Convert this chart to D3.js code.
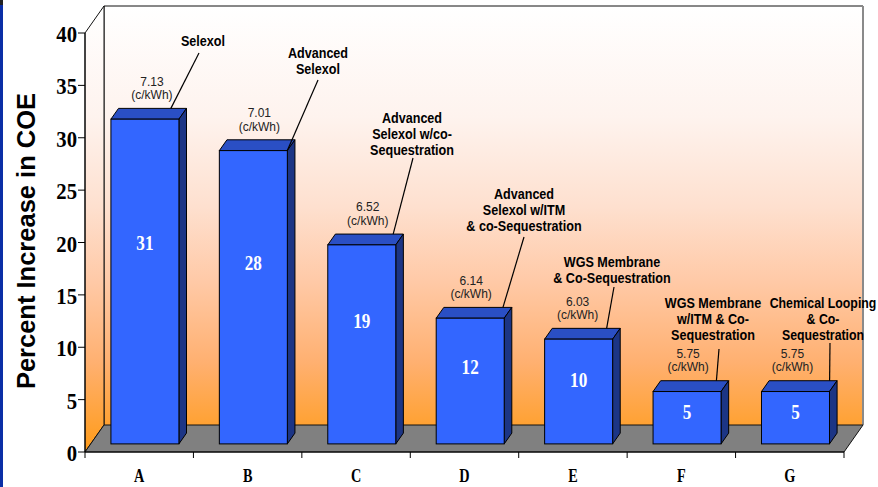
<!DOCTYPE html>
<html><head><meta charset="utf-8">
<script src="https://cdn.jsdelivr.net/npm/d3@7"></script>
<style>body{margin:0;background:#fff}svg{display:block}</style>
</head><body><svg id="chart" width="878" height="487"></svg>
<script>
// ---- data ----
const categories = ["A", "B", "C", "D", "E", "F", "G"];
const pctIncrease = [31, 28, 19, 12, 10, 5, 5];
const costOfElectricity = ["7.13", "7.01", "6.52", "6.14", "6.03", "5.75", "5.75"];
const costUnit = "(c/kWh)";
const processNames = [
  ["Selexol"],
  ["Advanced", "Selexol"],
  ["Advanced", "Selexol w/co-", "Sequestration"],
  ["Advanced", "Selexol w/ITM", "& co-Sequestration"],
  ["WGS Membrane", "& Co-Sequestration"],
  ["WGS Membrane", "w/ITM & Co-", "Sequestration"],
  ["Chemical Looping", "& Co-", "Sequestration"]
];
const yTicks = [0, 5, 10, 15, 20, 25, 30, 35, 40];
const yTitle = "Percent Increase in COE";

// ---- callout placement (name block centre, leader start, cost label shift, leader anchor on bar top) ----
const callouts = [
  { nx: 203, ny: 41,  top: [199, 53],  costDx: 7,  at: [0.77, 1], sx: 0.9 },
  { nx: 318, ny: 53,  top: [318, 80],  costDx: 6,  at: [1.0, 0],  sx: 0.9 },
  { nx: 412, ny: 118, top: [413, 158], costDx: 6,  at: [0.85, 1], sx: 0.9 },
  { nx: 524, ny: 194, top: [524, 237], costDx: 1,  at: [0.87, 1], sx: 0.9 },
  { nx: 612, ny: 262, top: [614, 287], costDx: -1, at: [0.80, 1], sx: 0.9 },
  { nx: 713, ny: 303, top: [719, 349], costDx: 1,  at: [0.82, 1], sx: 0.9 },
  { nx: 823, ny: 303, top: [830, 343], costDx: -3, at: [0.89, 1], sx: 0.88 }
];

const svg = d3.select("#chart");
const W = 878, H = 487;
const X0 = 85, X1 = 844, Y0 = 452, Y1 = 33;
const DX = 19, DY = -27;            // depth of the chart box
const zFront = 0.3, zBack = 0.7;    // depth slice occupied by the bars

const y = d3.scaleLinear().domain([0, 40]).range([Y0, Y1]);
const pad = 1 - 68 / ((X1 - X0) / categories.length);
const x = d3.scaleBand().domain(categories).range([X0, X1])
  .paddingInner(pad).paddingOuter(pad / 2);

const P = (px, v, z) => [px + DX * z, y(v) + DY * z];
const poly = pts => "M" + pts.map(p => p.join(",")).join("L") + "Z";

// left window edge strip
svg.append("rect").attr("x", 0).attr("y", 0).attr("width", 3).attr("height", H).attr("fill", "#0b2fa6");
svg.append("rect").attr("x", 0).attr("y", 0).attr("width", 3).attr("height", 5).attr("fill", "#222");

// wall gradient
const defs = svg.append("defs");
const g = defs.append("linearGradient").attr("id", "wall")
  .attr("gradientUnits", "userSpaceOnUse")
  .attr("x1", 0).attr("x2", 0).attr("y1", Y1 + DY).attr("y2", Y0);
[[0, "#ffffff"], [0.25, "#fef3ee"], [0.45, "#fee0cf"], [0.62, "#ffc9a6"],
 [0.8, "#ffb070"], [1, "#ff9b18"]].forEach(([o, c]) =>
  g.append("stop").attr("offset", o).attr("stop-color", c));

// back wall
svg.append("path")
  .attr("d", poly([P(X0, 0, 1), P(X0, 40, 1), P(X1, 40, 1), P(X1, 0, 1)]))
  .attr("fill", "url(#wall)").attr("stroke", "none");
svg.append("path")
  .attr("d", "M" + P(X0, 0, 1) + "L" + P(X0, 40, 1) + "L" + P(X1, 40, 1))
  .attr("fill", "none").attr("stroke", "#111").attr("stroke-width", 1);
svg.append("path")
  .attr("d", "M" + P(X1, 40, 1) + "L" + P(X1, 0, 1))
  .attr("fill", "none").attr("stroke", "#8a8a8a").attr("stroke-width", 2);

// left side wall
svg.append("path")
  .attr("d", poly([P(X0, 0, 0), P(X0, 40, 0), P(X0, 40, 1), P(X0, 0, 1)]))
  .attr("fill", "url(#wall)").attr("stroke", "#111").attr("stroke-width", 1);

// floor
svg.append("path")
  .attr("d", poly([P(X0, 0, 0), P(X1, 0, 0), P(X1, 0, 1), P(X0, 0, 1)]))
  .attr("fill", "#808080").attr("stroke", "#111").attr("stroke-width", 1);

// bars
const bars = svg.append("g");
categories.forEach((c, i) => {
  const v = pctIncrease[i];
  const xl = x(c), xr = x(c) + x.bandwidth();
  const gb = bars.append("g");
  // top face
  gb.append("path").attr("d", poly([P(xl, v, zFront), P(xr, v, zFront), P(xr, v, zBack), P(xl, v, zBack)]))
    .attr("fill", "#2a4fc4").attr("stroke", "#000").attr("stroke-width", 1).attr("stroke-linejoin", "round");
  // side face
  gb.append("path").attr("d", poly([P(xr, 0, zFront), P(xr, v, zFront), P(xr, v, zBack), P(xr, 0, zBack)]))
    .attr("fill", "#1c3585").attr("stroke", "#000").attr("stroke-width", 1).attr("stroke-linejoin", "round");
  // front face
  const f0 = P(xl, v, zFront), f1 = P(xr, 0, zFront);
  gb.append("rect").attr("x", f0[0]).attr("y", f0[1])
    .attr("width", f1[0] - f0[0]).attr("height", f1[1] - f0[1])
    .attr("fill", "#3366ff").attr("stroke", "#000").attr("stroke-width", 1);
  // value on the bar
  const lc = P(xl + x.bandwidth() / 2, v * 0.62, zFront);
  gb.append("text")
    .attr("transform", `translate(${lc[0]},${lc[1]}) scale(0.78,1)`)
    .attr("text-anchor", "middle").attr("dy", "0.35em")
    .attr("font-family", "'Liberation Serif','Times New Roman',serif")
    .attr("font-weight", "bold").attr("font-size", 22).attr("fill", "#fff")
    .text(v);
});

// y axis
const ax = svg.append("g");
ax.append("line").attr("x1", X0).attr("x2", X0).attr("y1", y(0)).attr("y2", y(40))
  .attr("stroke", "#000").attr("stroke-width", 1);
yTicks.forEach(t => {
  ax.append("line").attr("x1", X0 - 7).attr("x2", X0).attr("y1", y(t)).attr("y2", y(t))
    .attr("stroke", "#000").attr("stroke-width", 1);
  ax.append("text")
    .attr("transform", `translate(${X0 - 8},${y(t) + 9}) scale(0.9,1)`)
    .attr("text-anchor", "end")
    .attr("font-family", "'Liberation Serif','Times New Roman',serif")
    .attr("font-weight", "bold").attr("font-size", 23).attr("fill", "#000")
    .text(t);
});

// x axis
ax.append("line").attr("x1", X0).attr("x2", X1).attr("y1", Y0).attr("y2", Y0)
  .attr("stroke", "#000").attr("stroke-width", 1);
d3.range(categories.length + 1).forEach(k => {
  const tx = X0 + k * x.step();
  ax.append("line").attr("x1", tx).attr("x2", tx).attr("y1", Y0).attr("y2", Y0 + 6)
    .attr("stroke", "#000").attr("stroke-width", 1);
});
categories.forEach(c => {
  ax.append("text")
    .attr("transform", `translate(${X0 + (categories.indexOf(c) + 0.5) * x.step()},${Y0 + 30}) scale(0.75,1)`)
    .attr("text-anchor", "middle")
    .attr("font-family", "'Liberation Serif','Times New Roman',serif")
    .attr("font-weight", "bold").attr("font-size", 19).attr("fill", "#000")
    .text(c);
});

// y title
svg.append("text")
  .attr("transform", "translate(35,241) rotate(-90)")
  .attr("text-anchor", "middle")
  .attr("font-family", "'Liberation Sans',Arial,sans-serif")
  .attr("font-weight", "bold").attr("font-size", 25.5).attr("fill", "#000")
  .text(yTitle);

// callouts: cost of electricity and process name with leader line
const ann = svg.append("g");
categories.forEach((c, i) => {
  const v = pctIncrease[i];
  const co = callouts[i];
  const xl = x(c);
  const zA = zFront + (zBack - zFront) * co.at[1];
  const end = P(xl + x.bandwidth() * co.at[0], v, zA);
  ann.append("line")
    .attr("x1", co.top[0]).attr("y1", co.top[1]).attr("x2", end[0]).attr("y2", end[1])
    .attr("stroke", "#000").attr("stroke-width", 1.2);

  const fc = P(xl + x.bandwidth() / 2, v, zFront);
  const backY = P(xl, v, zBack)[1];
  const cx = fc[0] + co.costDx;
  [costOfElectricity[i], costUnit].forEach((s, k) => {
    ann.append("text")
      .attr("x", cx).attr("y", backY - 27 + k * 13.5).attr("dy", "0.35em")
      .attr("text-anchor", "middle")
      .attr("font-family", "'Liberation Sans',Arial,sans-serif")
      .attr("font-size", 12).attr("fill", "#222")
      .text(s);
  });

  processNames[i].forEach((s, k) => {
    ann.append("text")
      .attr("transform", `translate(${co.nx},${co.ny + k * 16}) scale(${co.sx},1)`)
      .attr("dy", "0.35em")
      .attr("text-anchor", "middle")
      .attr("font-family", "'Liberation Sans',Arial,sans-serif")
      .attr("font-weight", "bold").attr("font-size", 14).attr("fill", "#000")
      .text(s);
  });
});
</script>
</body></html>
